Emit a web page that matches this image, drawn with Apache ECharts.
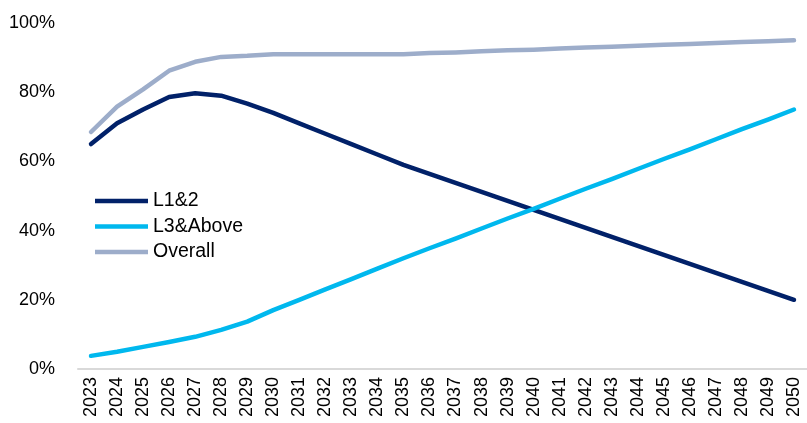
<!DOCTYPE html>
<html>
<head>
<meta charset="utf-8">
<script src="https://cdn.jsdelivr.net/npm/echarts@6/dist/echarts.min.js"></script>
<style>
  html, body { margin: 0; padding: 0; background: #fff; }
  #chart { width: 807px; height: 423px; }
</style>
</head>
<body>
<div id="chart"></div>
<script>
// Years on the category axis
const years = ['2023','2024','2025','2026','2027','2028','2029','2030','2031','2032','2033','2034','2035','2036',
  '2037','2038','2039','2040','2041','2042','2043','2044','2045','2046','2047','2048','2049','2050'];

// Share (%) by automation level
const l12 = [65, 71, 75, 78.6, 79.7, 79, 76.7, 74, 71, 68, 65, 62, 59, 56.4,
  53.8, 51.2, 48.6, 46, 43.4, 40.8, 38.2, 35.6, 33, 30.4, 27.8, 25.2, 22.6, 20];
const l3Above = [3.8, 5, 6.4, 7.8, 9.3, 11.3, 13.7, 17, 20, 23, 26, 29, 32, 34.9,
  37.7, 40.6, 43.5, 46.3, 49.2, 52.1, 54.9, 57.8, 60.7, 63.5, 66.4, 69.3, 72.1, 75];
const overall = [68.5, 75.8, 80.8, 86.2, 88.8, 90.2, 90.5, 91, 91, 91, 91, 91, 91, 91.3,
  91.5, 91.8, 92.1, 92.3, 92.6, 92.9, 93.1, 93.4, 93.7, 93.9, 94.2, 94.5, 94.7, 95];

const yTicks = { min: 0, max: 100, step: 20 };

const seriesDefs = [
  { name: 'L1&2', data: l12, color: '#012169' },
  { name: 'L3&Above', data: l3Above, color: '#00B8EE' },
  { name: 'Overall', data: overall, color: '#9DADCA' }
];

const FONT = 'Liberation Sans, Arial, sans-serif';

const chart = echarts.init(document.getElementById('chart'), null, { renderer: 'canvas' });
chart.setOption({
  animation: false,
  backgroundColor: '#ffffff',
  grid: { left: 78, right: -3, top: 23, bottom: 54, containLabel: false },
  legend: {
    orient: 'vertical',
    left: 95,
    top: 191,
    padding: 0,
    icon: 'rect',
    itemWidth: 53,
    itemHeight: 4.5,
    itemGap: 5.5,
    textStyle: { fontFamily: FONT, fontSize: 19.5, color: '#000', lineHeight: 20, padding: [0, 0, 0, 0] },
    data: seriesDefs.map(s => s.name)
  },
  xAxis: {
    type: 'category',
    data: years,
    boundaryGap: true,
    axisLine: { lineStyle: { color: '#D9D9D9', width: 2 } },
    axisTick: { show: false },
    axisLabel: {
      rotate: 90,
      interval: 0,
      margin: 8,
      fontFamily: FONT,
      fontSize: 18,
      color: '#000'
    },
    splitLine: { show: false }
  },
  yAxis: {
    type: 'value',
    min: yTicks.min,
    max: yTicks.max,
    interval: yTicks.step,
    axisLine: { show: false },
    axisTick: { show: false },
    splitLine: { show: false },
    axisLabel: {
      formatter: '{value}%',
      margin: 23,
      fontFamily: FONT,
      fontSize: 18,
      color: '#000'
    }
  },
  series: seriesDefs.map(s => ({
    name: s.name,
    type: 'line',
    data: s.data,
    symbol: 'none',
    smooth: false,
    color: s.color,
    lineStyle: { color: s.color, width: 4.5, cap: 'round', join: 'round' },
    itemStyle: { color: s.color }
  }))
});
</script>
</body>
</html>
